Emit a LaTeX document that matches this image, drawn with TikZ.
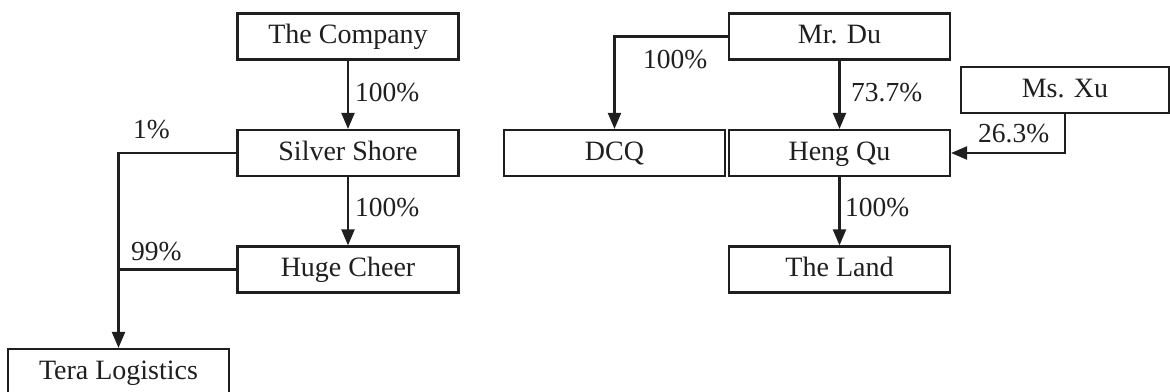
\documentclass[tikz,border=0pt]{standalone}
\usepackage{fontspec}
\setmainfont{Liberation Serif}
\usetikzlibrary{arrows.meta}
\tikzset{
  box/.style={draw=black!88, line width=2.2pt, minimum height=46pt, minimum width=221pt, inner sep=0pt,
    text height=20.5pt, text depth=6.5pt,
    font=\fontsize{28pt}{33pt}\selectfont, text=black!88, fill=white},
  pct/.style={anchor=west, inner sep=0pt, font=\fontsize{27.5pt}{33pt}\selectfont, text=black!88},
  conn/.style={draw=black!88, line width=2.2pt},
  arr/.style={conn, -{Triangle[length=16pt,width=13pt]}},
}
\begin{document}
\begin{tikzpicture}[x=1pt,y=-1pt]
\useasboundingbox (0,0) rectangle (1170,391);
\clip (0,0) rectangle (1170,391);
% left group
\node[box] (company) at (348,36.5) {The Company};
\node[box] (silver) at (348,153) {Silver Shore};
\node[box] (huge) at (348,269.5) {Huge Cheer};
\node[box] (tera) at (118.5,372) {Tera Logistics};
% right group
\node[box] (mrdu) at (839.5,36.5) {Mr. Du};
\node[box] (dcq) at (614.5,153) {DCQ};
\node[box] (hengqu) at (839.5,153) {Heng Qu};
\node[box] (land) at (839.5,269.5) {The Land};
\node[box, minimum width=208pt, minimum height=46pt] (msxu) at (1065,90) {Ms. Xu};
% connectors
\coordinate (tcorner) at (tera.north |- silver.west);
\coordinate (hjoin) at (tera.north |- huge.west);
\draw[arr] (company) -- (silver);
\draw[arr] (silver) -- (huge);
\draw[arr] (silver.west) -- (tcorner) -- (tera.north);
\draw[conn] (huge.west) -- (hjoin);
\coordinate (dcorner) at (dcq.north |- mrdu.west);
\draw[arr] (mrdu.west) -- (dcorner) -- (dcq.north);
\draw[arr] (mrdu) -- (hengqu);
\coordinate (xcorner) at (msxu.south |- hengqu.east);
\draw[arr] (msxu.south) -- (xcorner) -- (hengqu.east);
\draw[arr] (hengqu) -- (land);
% labels
\node[pct] (p1) at (355,93) {100\%};
\node[pct] (p2) at (133,130) {1\%};
\node[pct] (p3) at (355,208) {100\%};
\node[pct] (p4) at (131,252) {99\%};
\node[pct] (p5) at (643,60) {100\%};
\node[pct] (p6) at (851,93) {73.7\%};
\node[pct] (p7) at (978,134) {26.3\%};
\node[pct] (p8) at (845,208) {100\%};
\end{tikzpicture}
\end{document}
